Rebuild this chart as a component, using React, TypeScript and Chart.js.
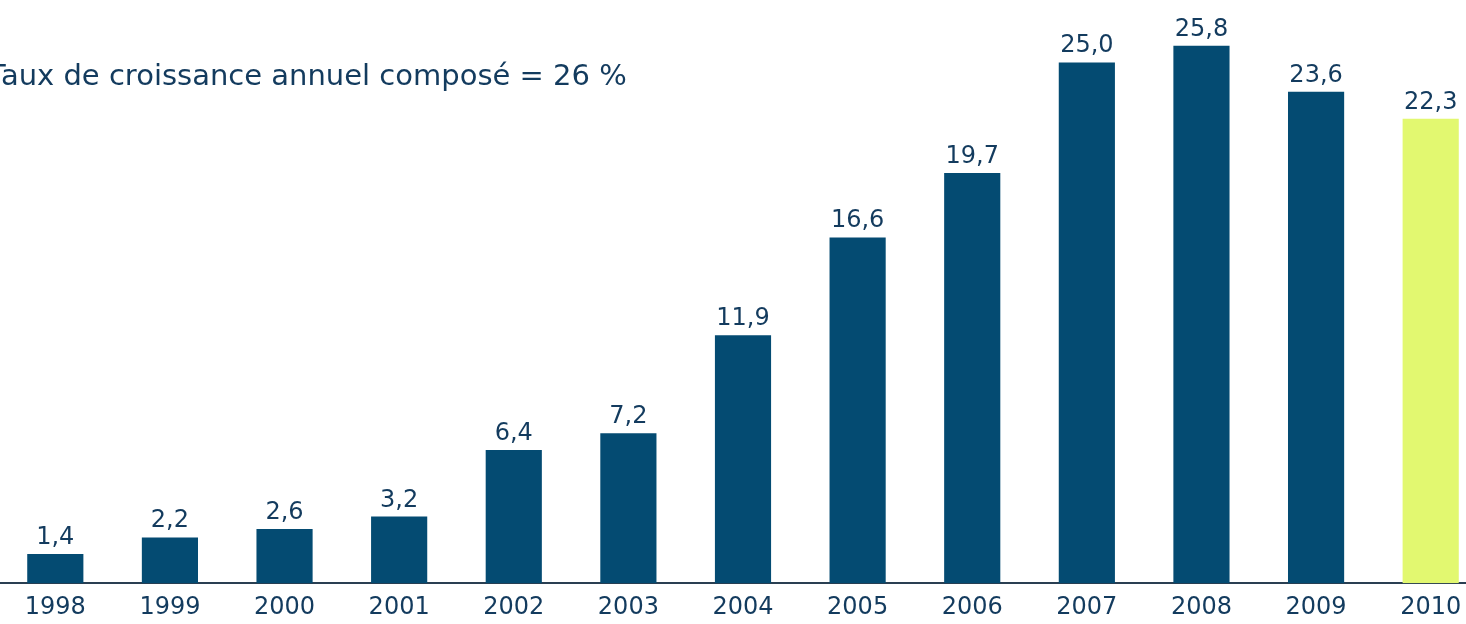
import React, { useEffect, useRef } from "react";
import { Chart, registerables } from "chart.js";

Chart.register(...registerables);

const years = ["1998", "1999", "2000", "2001", "2002", "2003", "2004", "2005", "2006", "2007", "2008", "2009", "2010"];
const values = [1.4, 2.2, 2.6, 3.2, 6.4, 7.2, 11.9, 16.6, 19.7, 25.0, 25.8, 23.6, 22.3];
const barColors = [
  "#044b72", "#044b72", "#044b72", "#044b72", "#044b72", "#044b72", "#044b72",
  "#044b72", "#044b72", "#044b72", "#044b72", "#044b72", "#e2f870",
];
const titleText = "Taux de croissance annuel composé = 26 %";

const FONT = "'DejaVu Sans', 'Liberation Sans', Arial, sans-serif";
const TEXT_COLOR = "#133b5e";

const labelsPlugin = {
  id: "valueLabels",
  afterDatasetsDraw(chart: any) {
    const ctx = chart.ctx;
    const meta = chart.getDatasetMeta(0);
    ctx.save();
    ctx.font = `24px ${FONT}`;
    ctx.fillStyle = TEXT_COLOR;
    ctx.textAlign = "center";
    ctx.textBaseline = "alphabetic";
    meta.data.forEach((bar: any, i: number) => {
      const txt = values[i].toFixed(1).replace(".", ",");
      ctx.fillText(txt, bar.x, bar.y - 10);
    });
    ctx.restore();
  },
};

const titlePlugin = {
  id: "cornerTitle",
  afterDraw(chart: any) {
    const ctx = chart.ctx;
    ctx.save();
    ctx.font = `29px ${FONT}`;
    ctx.fillStyle = TEXT_COLOR;
    ctx.textAlign = "left";
    ctx.textBaseline = "alphabetic";
    ctx.fillText(titleText, -10, 85);
    ctx.restore();
  },
};

export default function App() {
  const ref = useRef<HTMLCanvasElement | null>(null);
  useEffect(() => {
    if (!ref.current) return;
    const chart = new Chart(ref.current, {
      type: "bar",
      data: {
        labels: years,
        datasets: [
          {
            data: values,
            backgroundColor: barColors,
            borderWidth: 0,
            barPercentage: 0.49,
            categoryPercentage: 1,
          },
        ],
      },
      options: {
        responsive: false,
        animation: false,
        layout: { padding: { top: 0, bottom: 0, left: 0, right: 0 } },
        plugins: {
          legend: { display: false },
          tooltip: { enabled: false },
          title: { display: false },
        },
        scales: {
          x: {
            grid: { display: false, drawTicks: false },
            border: { display: true, color: "#2a3f52", width: 2 },
            ticks: {
              color: TEXT_COLOR,
              font: { family: FONT, size: 24 },
              padding: 10,
            },
          },
          y: {
            display: false,
            min: 0,
            max: 28,
          },
        },
      },
      plugins: [labelsPlugin, titlePlugin],
    });
    return () => chart.destroy();
  }, []);
  return (
    <div style={{ position: "fixed", left: 0, top: 0, width: 1466, height: 624, overflow: "hidden", background: "#fff" }}>
      <canvas ref={ref} width={1490} height={632} style={{ position: "absolute", left: -2, top: 0, width: 1490, height: 632 }} />
    </div>
  );
}
